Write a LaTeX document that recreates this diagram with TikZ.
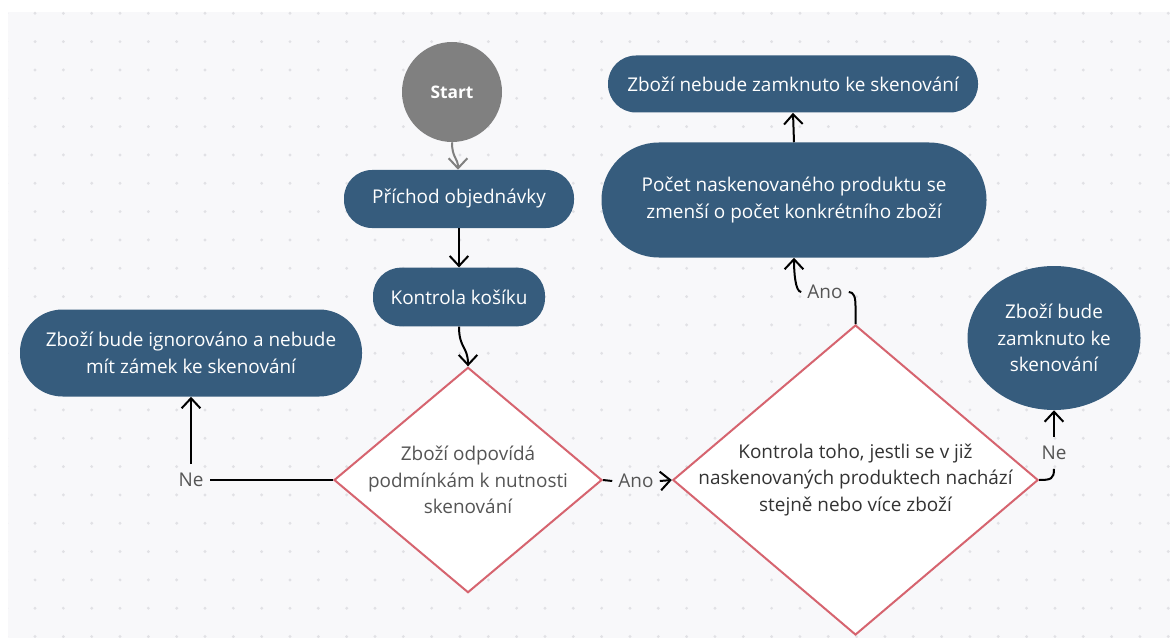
\documentclass[tikz,border=0pt]{standalone}
\usepackage{fontspec}
\setmainfont{Open Sans}
\usetikzlibrary{arrows.meta,shapes.geometric}
\definecolor{boxblue}{HTML}{365C7D}
\definecolor{startgray}{HTML}{808080}
\definecolor{diamondred}{HTML}{D6646F}
\definecolor{canvas}{HTML}{F8F8FA}
\definecolor{dotgray}{HTML}{E1E1E5}
\definecolor{labelgray}{HTML}{555555}
\definecolor{condgray}{HTML}{555555}
\definecolor{comparegray}{HTML}{333333}
\begin{document}
\begin{tikzpicture}[x=0.75pt,y=-0.75pt,
  font=\fontsize{14.2}{20}\selectfont,
  process/.style={fill=boxblue,text=white,align=center,inner sep=0pt},
  decision/.style={diamond,draw=diamondred,line width=1.5pt,fill=white,inner sep=0pt},
  answer/.style={text=labelgray,inner xsep=4.5pt,inner ysep=6.5pt},
  flow/.style={line width=1.5pt,-{Straight Barb[length=7.5pt,width=14pt]}},
  link/.style={line width=1.5pt}]
\useasboundingbox (0,0) rectangle (1170,638);
% canvas with dots
\fill[white] (0,0) rectangle (1170,638);
\fill[canvas] (8,12) rectangle (1170,638);
\begin{scope}
\clip (8,12) rectangle (1170,638);
\foreach \i in {0,...,41}
  \foreach \j in {0,...,22}
    \fill[dotgray] (6.7+28.33*\i,13.3+28.33*\j) circle (1.2pt);
\end{scope}
% nodes
\node[circle,fill=startgray,text=white,minimum size=75pt,inner sep=0pt,font=\fontsize{13}{20}\selectfont\bfseries] (start) at (452,92) {Start};
\node[process,rounded corners=21pt,minimum width=172.5pt,minimum height=43.5pt] (arrival) at (459,199) {Příchod objednávky};
\node[process,rounded corners=21pt,minimum width=129pt,minimum height=44pt] (check) at (459,297) {Kontrola košíku};
\node[decision,minimum width=201pt,minimum height=169pt,
  label={[text=condgray,align=center]center:Zboží odpovídá\\podmínkám k nutnosti\\skenování}] (cond) at (468,480) {};
\node[process,rounded corners=32pt,minimum width=256.5pt,minimum height=65.25pt] (ignore) at (191,353) {Zboží bude ignorováno a nebude\\mít zámek ke skenování};
\node[decision,minimum width=274pt,minimum height=232.5pt,
  label={[text=comparegray,align=center]center:Kontrola toho, jestli se v již\\naskenovaných produktech nachází\\stejně nebo více zboží}] (compare) at (855.5,480) {};
\node[process,rounded corners=43pt,minimum width=288.75pt,minimum height=86.25pt] (decrease) at (794,200) {Počet naskenovaného produktu se\\zmenší o počet konkrétního zboží};
\node[process,rounded corners=21pt,minimum width=277.5pt,minimum height=42.75pt] (unlocked) at (793,84) {Zboží nebude zamknuto ke skenování};
\node[process,ellipse,minimum width=129.75pt,minimum height=108pt] (locked) at (1054,338) {Zboží bude\\zamknuto ke\\skenování};
% answers
\node[answer] (ne1) at (191,480) {Ne};
\node[answer] (ano1) at (636,481) {Ano};
\node[answer] (ano2) at (825,292) {Ano};
\node[answer] (ne2) at (1054,453) {Ne};
% connectors
\draw[flow,startgray] (start.south) .. controls +(0,16) and +(0,-12) .. ([xshift=-0.75pt]arrival.north);
\draw[flow] (arrival.south) -- (check.north);
\draw[flow] (check.south) .. controls +(0,22) and +(0,-20) .. (cond.north);
\draw[link] (cond.west) -- (ne1.east);
\draw[flow] (ne1.north) -- (ignore.south);
\draw[link] (cond.east) -- (ano1.west);
\draw[flow] (ano1.east) -- (compare.west);
\draw[link] (compare.north) -- ++(0,-18) .. controls +(0,-9) and +(5,0) .. (ano2.east);
\draw[flow] (ano2.west) .. controls +(-6,0) and +(0,14) .. (decrease.south);
\draw[flow] (decrease.north) -- (unlocked.south);
\draw[link] (compare.east) .. controls +(12,0) and +(0,10) .. (ne2.south);
\draw[flow] (ne2.north) -- (locked.south);
\end{tikzpicture}
\end{document}
